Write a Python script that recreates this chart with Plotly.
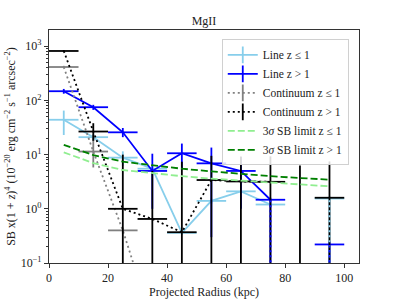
import plotly.graph_objects as go

# ---------------- data ----------------
radius = [5, 15, 25, 35, 45, 55, 65, 75, 85, 95]          # kpc, bin centres
radius_halfwidth = 5                                        # kpc, x error

line_le1 = [44, 21, 8.8, 5.5, 0.36, 1.4, 2.1, 1.2, None, 1.55]
line_le1_lo = [23, 18, 6.2, 4.8, 0.33, 1.25, 1.9, 1.1, None, 0.01]
line_le1_hi = [65, 24, 11.5, 6.2, 0.39, 1.55, 2.3, 1.3, None, 1.7]

line_gt1 = [148, 75, 25.8, 5.0, 10.6, 6.9, 5.0, 1.47, None, 0.22]
line_gt1_lo = [133, 67, 21, 1.0, 5.2, 0.3, 1.0, 0.01, None, 0.01]
line_gt1_hi = [163, 83, 31, 10.4, 16, 13.5, 9.0, 1.6, None, 0.25]

cont_le1 = [414, 11.4, 0.4, 0.008, None, None, None, None, None, None]
cont_le1_lo = [395, 5.8, 0.35, None, None, None, None, None, None, None]
cont_le1_hi = [435, 23, 0.45, None, None, None, None, None, None, None]

cont_gt1 = [818, 26.7, 1.0, 0.65, 0.37, 3.4, 3.2, 3.15, None, 1.6]
cont_gt1_lo = [790, 18, 0.01, 0.01, 0.01, 0.01, 0.01, 0.01, 0.01, 0.01]
cont_gt1_hi = [850, 38, 10, 5.0, 7.4, 9.5, 9.2, 9.3, 6.3, 7.5]

sb_limit_le1 = [11.0, 7.0, 5.2, 4.5, 4.0, 3.6, 3.3, 3.05, 2.8, 2.6]
sb_limit_gt1 = [15.1, 9.8, 7.4, 6.3, 5.5, 4.9, 4.4, 4.0, 3.7, 3.45]

x_ticks = [0, 20, 40, 60, 80, 100]
y_tick_vals = [0.1, 1, 10, 100, 1000]
y_tick_text = ["10<sup>−1</sup>", "10<sup>0</sup>", "10<sup>1</sup>", "10<sup>2</sup>", "10<sup>3</sup>"]
y_axis_floor = 0.1

# ---------------- styles ----------------
C_LB, C_B, C_G, C_K = "#87CEEB", "#0000FF", "#808080", "#000000"
C_LG, C_DG = "#90EE90", "#008000"
LW = 1.8
DOT = "2px,3px"
DASH = "7px,3px"
FONT = "Liberation Serif"


def hsegs(xs, ys, hw):
    X, Y = [], []
    for x, y in zip(xs, ys):
        if y is None:
            continue
        X += [x - hw, x + hw, None]
        Y += [y, y, None]
    return X, Y


def vsegs(xs, lo, hi):
    X, Y = [], []
    for x, a, b in zip(xs, lo, hi):
        if a is None or b is None:
            continue
        X += [x, x, None]
        Y += [a, b, None]
    return X, Y


fig = go.Figure()


def add_series(vals, lo, hi, color, dash):
    fig.add_trace(go.Scatter(x=radius, y=vals, mode="lines", connectgaps=False,
                             line=dict(color=color, width=LW, dash=dash),
                             showlegend=False, hoverinfo="skip"))
    hx, hy = hsegs(radius, vals, radius_halfwidth)
    fig.add_trace(go.Scatter(x=hx, y=hy, mode="lines", line=dict(color=color, width=LW),
                             showlegend=False, hoverinfo="skip"))
    vx, vy = vsegs(radius, lo, hi)
    fig.add_trace(go.Scatter(x=vx, y=vy, mode="lines", line=dict(color=color, width=LW),
                             showlegend=False, hoverinfo="skip"))


add_series(line_le1, line_le1_lo, line_le1_hi, C_LB, "solid")
add_series(line_gt1, line_gt1_lo, line_gt1_hi, C_B, "solid")
add_series(cont_le1, cont_le1_lo, cont_le1_hi, C_G, DOT)
add_series(cont_gt1, cont_gt1_lo, cont_gt1_hi, C_K, DOT)

# colored lower bars that run below the axis show through the black bars
for vals, lo, color in [(line_le1, line_le1_lo, C_LB), (line_gt1, line_gt1_lo, C_B)]:
    keep = [(x, l, v) for x, v, l in zip(radius, vals, lo)
            if v is not None and l is not None and l < y_axis_floor]
    vx, vy = vsegs([k[0] for k in keep], [k[1] for k in keep], [k[2] for k in keep])
    fig.add_trace(go.Scatter(x=vx, y=vy, mode="lines", line=dict(color=color, width=LW, dash=DOT),
                             showlegend=False, hoverinfo="skip"))

fig.add_trace(go.Scatter(x=radius, y=sb_limit_le1, mode="lines",
                         line=dict(color=C_LG, width=LW, dash=DASH), showlegend=False))
fig.add_trace(go.Scatter(x=radius, y=sb_limit_gt1, mode="lines",
                         line=dict(color=C_DG, width=LW, dash=DASH), showlegend=False))

# legend entries
legend_items = [
    ("Line z ≤ 1", C_LB, "solid", True),
    ("Line z > 1", C_B, "solid", True),
    ("Continuum z ≤ 1", C_G, DOT, True),
    ("Continuum z > 1", C_K, DOT, True),
    ("3<i>σ</i> SB limit z ≤ 1", C_LG, DASH, False),
    ("3<i>σ</i> SB limit z > 1", C_DG, DASH, False),
]
for name, color, dash, cross in legend_items:
    fig.add_trace(go.Scatter(
        x=[None], y=[None], name=name,
        mode="lines+markers" if cross else "lines",
        line=dict(color=color, width=LW, dash=dash),
        marker=dict(symbol="line-ns", size=12, line=dict(color=color, width=LW)),
    ))

fig.update_layout(
    width=399, height=299,
    margin=dict(l=49, r=40, t=30, b=36),
    paper_bgcolor="white", plot_bgcolor="white",
    font=dict(family=FONT, size=12, color="#222"),
    title=dict(text="MgII", x=(49 + 359) / 2 / 399, xanchor="center",
               y=1 - 21 / 299, yanchor="middle", yref="container",
               font=dict(size=12, family=FONT, color="#222")),
    legend=dict(x=0.967, xanchor="right", y=0.96, yanchor="top",
                bgcolor="rgba(255,255,255,0.85)", bordercolor="#d0d0d0", borderwidth=1,
                font=dict(size=11.5, family=FONT, color="#222"),
                itemwidth=30, tracegroupgap=0),
    showlegend=True,
)

fig.update_xaxes(range=[0, 105], tickvals=x_ticks, ticks="outside", ticklen=4,
                 tickcolor="#333", showline=True, linecolor="#333", linewidth=1.1,
                 mirror=True, showgrid=False, zeroline=False, automargin=False,
                 tickfont=dict(size=12, family=FONT, color="#222"),
                 title=dict(text="Projected Radius (kpc)", standoff=0,
                            font=dict(size=12, family=FONT, color="#222")))

fig.update_yaxes(type="log", range=[-1, 3.3], tickvals=y_tick_vals, ticktext=y_tick_text,
                 ticks="outside", ticklen=4, tickcolor="#333",
                 minor=dict(ticks="outside", ticklen=2, dtick="D1", tickcolor="#333", showgrid=False),
                 showline=True, linecolor="#333", linewidth=1.1, mirror=True,
                 showgrid=False, zeroline=False, automargin=False,
                 tickfont=dict(size=12, family=FONT, color="#222"),
                 title=dict(text="SB x(1 + <i>z</i>)<sup>4</sup> (10<sup>−20</sup> erg cm<sup>−2</sup> s<sup>−1</sup> arcsec<sup>−2</sup>)",
                            standoff=2, font=dict(size=12, family=FONT, color="#222")))

fig.write_html("out.html", config={"displayModeBar": False},
               post_script="document.body.style.margin='0';document.body.style.overflow='hidden';")
